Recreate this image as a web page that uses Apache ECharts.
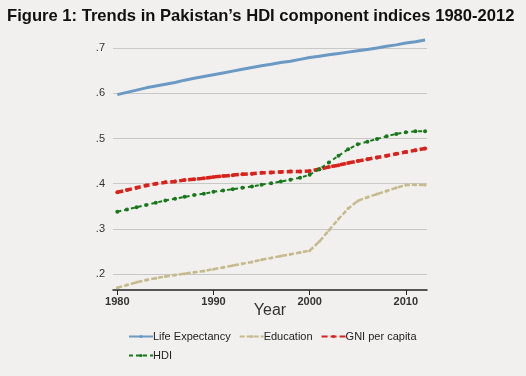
<!DOCTYPE html>
<html><head><meta charset="utf-8">
<script src="https://cdn.jsdelivr.net/npm/echarts@6/dist/echarts.min.js"></script>
<style>html,body{margin:0;padding:0;background:#f1f0ee}#c{width:526px;height:376px}</style>
</head><body><div id="c"></div>
<script>
const years = [1980,1981,1982,1983,1984,1985,1986,1987,1988,1989,1990,1991,1992,1993,1994,1995,1996,1997,1998,1999,2000,2001,2002,2003,2004,2005,2006,2007,2008,2009,2010,2011,2012];
const lifeExpectancy = [.597,.602,.607,.612,.616,.620,.624,.629,.633,.637,.641,.645,.649,.653,.657,.661,.664,.668,.671,.675,.679,.682,.685,.688,.691,.694,.697,.700,.704,.707,.711,.714,.718];
const education = [.170,.176,.182,.187,.191,.195,.198,.201,.204,.207,.211,.215,.219,.223,.227,.232,.236,.240,.244,.248,.252,.272,.297,.322,.345,.362,.370,.377,.384,.391,.397,.398,.397];
const gniPerCapita = [.381,.386,.391,.396,.400,.403,.405,.408,.410,.412,.415,.417,.419,.421,.422,.424,.425,.426,.427,.427,.428,.432,.437,.441,.446,.450,.454,.458,.462,.466,.470,.474,.478];
const hdi = [.338,.343,.348,.353,.358,.363,.367,.371,.375,.378,.382,.385,.388,.391,.394,.398,.401,.405,.409,.413,.420,.432,.447,.462,.476,.487,.493,.499,.505,.510,.514,.516,.516];
const xTicks = [1980,1990,2000,2010];
const yTicks = [0.2,0.3,0.4,0.5,0.6,0.7];
const names = ['Life Expectancy','Education','GNI per capita','HDI'];

const pair = arr => years.map((y,i)=>[y,arr[i]]);
const chart = echarts.init(document.getElementById('c'), null, {renderer:'canvas'});
const font = 'Liberation Sans, Arial, sans-serif';
const legendText = {fontFamily:font,fontSize:11,color:'#222',padding:[0,0,0,-5]};
chart.setOption({
  backgroundColor:'#f1f0ee',
  animation:false,
  title:{text:'Figure 1: Trends in Pakistan\u2019s HDI component indices 1980-2012',left:4,top:8,padding:[0,0,0,3],
    textStyle:{fontFamily:font,fontSize:16.6,fontWeight:'bold',color:'#111'}},
  grid:{left:113,right:99,top:39,bottom:86},
  legend:[{data:names.slice(0,3),left:128,top:331,padding:0,itemWidth:24,itemHeight:4,itemGap:8,
    textStyle:legendText},
    {data:names.slice(3),left:128,top:350,padding:0,itemWidth:24,itemHeight:4,
    textStyle:legendText}],
  xAxis:{type:'value',min:1979.55,max:2012.2,name:'Year',nameLocation:'middle',nameGap:13,nameMoveOverlap:false,
    nameTextStyle:{fontFamily:font,fontSize:16,color:'#333'},
    axisLine:{show:true,lineStyle:{color:'#222',width:1.5}},
    axisTick:{show:true,length:5,lineStyle:{color:'#222'},customValues:xTicks},
    axisLabel:{customValues:xTicks,fontFamily:font,fontSize:11,fontWeight:'bold',color:'#333',margin:6,formatter:v=>String(v)},
    splitLine:{show:false}},
  yAxis:{type:'value',min:0.165,max:0.72,
    axisLine:{show:false},axisTick:{show:false,customValues:yTicks},
    axisLabel:{customValues:yTicks,fontFamily:font,fontSize:11,color:'#333',margin:8,
      formatter:v=>String(Math.round(v*10)/10).replace(/^0/,'')},
    splitLine:{show:true,lineStyle:{color:'#c8c8c8',width:1}}},
  series:[
    {name:names[0],type:'line',data:pair(lifeExpectancy),showSymbol:false,symbol:'none',
      lineStyle:{color:'#6a99c4',width:3},itemStyle:{color:'#6a99c4'},z:3},
    {name:names[1],type:'line',data:pair(education),symbol:'circle',symbolSize:3,
      lineStyle:{color:'#c6b98b',width:2.5,type:[5,2]},itemStyle:{color:'#c6b98b'},z:2},
    {name:names[2],type:'line',data:pair(gniPerCapita),symbol:'circle',symbolSize:4,
      lineStyle:{color:'#d8221b',width:3.5,type:[6,3]},itemStyle:{color:'#d8221b'},z:2},
    {name:names[3],type:'line',data:pair(hdi),symbol:'circle',symbolSize:4,
      lineStyle:{color:'#17781a',width:2,type:[4,3]},itemStyle:{color:'#17781a'},z:4}
  ]
});
</script></body></html>
